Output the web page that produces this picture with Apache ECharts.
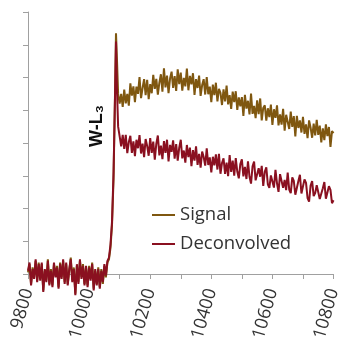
<!DOCTYPE html>
<html>
<head>
<meta charset="utf-8">
<script src="https://cdn.jsdelivr.net/npm/echarts@6/dist/echarts.min.js"></script>
<style>
  html, body { margin: 0; padding: 0; background: #fff; }
  #chart { width: 343px; height: 346px; }
</style>
</head>
<body>
<div id="chart"></div>
<script>
// photon energy (eV)
const energy = [
  9800, 9805, 9810, 9815, 9820, 9825, 9830, 9835, 9840, 9845,
  9850, 9855, 9860, 9865, 9870, 9875, 9880, 9885, 9890, 9895,
  9900, 9905, 9910, 9915, 9920, 9925, 9930, 9935, 9940, 9945,
  9950, 9955, 9960, 9965, 9970, 9975, 9980, 9985, 9990, 9995,
  10000, 10005, 10010, 10015, 10020, 10025, 10030, 10035, 10040, 10045,
  10050, 10055, 10060, 10065,
  10070, 10075, 10080, 10085, 10088, 10091, 10095,
  10100, 10105, 10110, 10115, 10120, 10125, 10130, 10135, 10140, 10145,
  10150, 10155, 10160, 10165, 10170, 10175, 10180, 10185, 10190, 10195,
  10200, 10205, 10210, 10215, 10220, 10225, 10230, 10235, 10240, 10245,
  10250, 10255, 10260, 10265, 10270, 10275, 10280, 10285, 10290, 10295,
  10300, 10305, 10310, 10315, 10320, 10325, 10330, 10335, 10340, 10345,
  10350, 10355, 10360, 10365, 10370, 10375, 10380, 10385, 10390, 10395,
  10400, 10405, 10410, 10415, 10420, 10425, 10430, 10435, 10440, 10445,
  10450, 10455, 10460, 10465, 10470, 10475, 10480, 10485, 10490, 10495,
  10500, 10505, 10510, 10515, 10520, 10525, 10530, 10535, 10540, 10545,
  10550, 10555, 10560, 10565, 10570, 10575, 10580, 10585, 10590, 10595,
  10600, 10605, 10610, 10615, 10620, 10625, 10630, 10635, 10640, 10645,
  10650, 10655, 10660, 10665, 10670, 10675, 10680, 10685, 10690, 10695,
  10700, 10705, 10710, 10715, 10720, 10725, 10730, 10735, 10740, 10745,
  10750, 10755, 10760, 10765, 10770, 10775, 10780, 10785, 10790, 10795,
  10800
];

const signal = [
  0.05, 0.3, -0.3, 0.2, -0.1, 0.4, -0.2, 0.35, -0.15, 0.3,
  -0.5, 0.1, -0.2, 0.45, -0.3, 0.15, -0.35, 0.3, -0.05, 0.25,
  -0.4, 0.35, -0.1, 0.4, -0.25, 0.3, -0.3, 0.1, 0.5, -0.2,
  0.2, -0.6, 0.25, -0.25, 0.4, -0.1, 0.3, -0.3, 0.2, -0.35,
  0.25, -0.15, 0.35, -0.45, 0.1, -0.3, 0.2, -0.4, 0.15, -0.3,
  0.25, -0.1, 0.35, 0.45,
  0.8, 1.5, 2.9, 5.6, 7.35, 6.6, 5.5,
  5.2, 5.5, 5.1, 5.63, 5.21, 5.5, 5.14, 5.82, 5.45, 5.73,
  5.25, 5.72, 5.5, 6.01, 5.37, 5.68, 5.95, 5.46, 5.93, 5.34,
  5.8, 5.52, 6.08, 5.65, 5.96, 5.48, 5.84, 6.1, 5.57, 6.28,
  5.7, 6.06, 5.52, 5.97, 6.18, 5.68, 6.04, 5.59, 6.25, 5.8,
  6.15, 5.6, 5.99, 5.73, 6.27, 5.61, 6.05, 5.79, 6.13, 5.47,
  5.95, 5.68, 6.06, 5.44, 5.77, 5.95, 5.48, 6.01, 5.49, 5.72,
  5.25, 5.78, 5.46, 5.84, 5.27, 5.65, 5.53, 5.16, 5.64, 5.27,
  5.75, 5.18, 5.46, 5.04, 5.57, 5.25, 5.58, 5.01, 5.39, 5.12,
  5.4, 4.83, 5.47, 5.05, 5.29, 4.87, 5.51, 4.89, 5.13, 4.76,
  5.3, 4.88, 5.36, 4.69, 5.07, 5.15, 4.68, 5.06, 4.79, 5.17,
  4.55, 5.03, 4.77, 5.15, 4.54, 4.87, 4.56, 5.04, 4.38, 4.86,
  4.8, 4.43, 4.96, 4.49, 4.82, 4.2, 4.83, 4.46, 4.69, 4.32,
  4.8, 4.28, 4.57, 4.15, 4.69, 4.47, 4.16, 4.59, 4.23, 4.71,
  4.25, 4.53, 4.02, 4.45, 4.09, 4.57, 4.21, 4.49, 3.88, 4.36,
  4.3
];

const deconvolved = [
  0.1, 0.35, -0.35, 0.15, -0.15, 0.45, -0.25, 0.3, -0.2, 0.35,
  -0.55, 0.15, -0.25, 0.4, -0.35, 0.1, -0.4, 0.35, -0.1, 0.2,
  -0.45, 0.3, -0.15, 0.45, -0.3, 0.35, -0.35, 0.15, 0.45, -0.25,
  0.15, -0.65, 0.3, -0.3, 0.45, -0.15, 0.25, -0.35, 0.25, -0.4,
  0.2, -0.2, 0.3, -0.5, 0.15, -0.35, 0.15, -0.45, 0.1, -0.25,
  0.3, -0.05, 0.4, 0.5,
  0.9, 1.6, 3.1, 5.5, 7.1, 5.7, 4.5,
  4.2, 3.9, 4.25, 3.82, 4.25, 3.69, 4.03, 4.22, 3.7, 4.05,
  3.6, 4.1, 3.84, 4.24, 3.68, 3.98, 3.57, 4.12, 3.91, 3.61,
  4.15, 3.7, 4.04, 3.49, 3.98, 4.23, 3.62, 3.92, 3.51, 4.06,
  3.7, 4.1, 3.44, 3.94, 3.73, 4.08, 3.52, 3.97, 3.46, 3.86,
  4.1, 3.53, 3.77, 3.4, 3.94, 3.57, 3.86, 3.29, 3.78, 3.46,
  3.9, 3.33, 3.67, 3.25, 3.74, 3.57, 3.31, 3.84, 3.33, 3.56,
  3.1, 3.58, 3.32, 3.65, 3.19, 3.67, 3.06, 3.39, 3.53, 3.06,
  3.4, 2.99, 3.63, 3.12, 3.46, 3.0, 3.54, 3.13, 2.92, 3.36,
  3.5, 2.98, 3.27, 2.9, 3.44, 2.97, 2.76, 3.29, 3.43, 2.86,
  2.8, 3.23, 2.97, 3.3, 2.69, 3.12, 3.26, 2.74, 2.63, 3.01,
  3.05, 2.64, 3.18, 2.77, 2.51, 3.05, 3.09, 2.63, 2.87, 2.56,
  3.1, 2.58, 2.47, 2.95, 2.84, 2.42, 2.46, 2.84, 3.03, 2.46,
  2.45, 2.89, 2.78, 2.32, 2.21, 2.7, 2.84, 2.38, 2.47, 2.71,
  2.75, 2.29, 2.23, 2.62, 2.81, 2.3, 2.34, 2.68, 2.57, 2.16,
  2.25
];

const seriesNames = ['Signal', 'Deconvolved'];
const seriesColors = ['#7f5710', '#8a1020'];
const edgeLabel = 'W-L\u2083';

const chart = echarts.init(document.getElementById('chart'), null, { renderer: 'canvas' });

const pairs = (ys) => energy.map((e, i) => [e, ys[i]]);

const option = {
  animation: false,
  backgroundColor: '#fff',
  grid: { left: 28, right: 7, top: 12, bottom: 72 },
  legend: {
    orient: 'vertical',
    left: 152,
    top: 204,
    padding: 0,
    itemWidth: 23,
    itemHeight: 2,
    itemGap: 7,
    icon: 'rect',
    textStyle: { fontFamily: 'Open Sans', fontSize: 18.5, lineHeight: 22, color: '#333' },
    data: seriesNames
  },
  xAxis: {
    type: 'value',
    min: 9800,
    max: 10800,
    interval: 100,
    axisLine: { lineStyle: { color: '#a0a0a0', width: 1 } },
    axisTick: { show: true, length: 5, lineStyle: { color: '#a0a0a0' } },
    splitLine: { show: false },
    axisLabel: {
      rotate: 74,
      margin: 15,
      fontFamily: 'Open Sans',
      fontSize: 18,
      color: '#333',
      formatter: (v) => (v % 200 === 0 ? String(v) : '')
    }
  },
  yAxis: {
    type: 'value',
    min: 0,
    max: 8,
    interval: 1,
    axisLine: { show: true, lineStyle: { color: '#a0a0a0', width: 1 } },
    axisTick: { show: true, length: 5, lineStyle: { color: '#a0a0a0' } },
    axisLabel: { show: false },
    splitLine: { show: false }
  },
  series: [
    {
      name: seriesNames[0],
      type: 'line',
      data: pairs(signal),
      showSymbol: false,
      clip: false,
      color: seriesColors[0],
      lineStyle: { width: 2, color: seriesColors[0] }
    },
    {
      name: seriesNames[1],
      type: 'line',
      data: pairs(deconvolved),
      showSymbol: false,
      clip: false,
      color: seriesColors[1],
      lineStyle: { width: 2, color: seriesColors[1] }
    },
    {
      // edge annotation, drawn as a rotated text element
      type: 'custom',
      silent: true,
      clip: false,
      data: [[0]],
      renderItem: () => ({
        type: 'group',
        x: 97,
        y: 126,
        rotation: Math.PI / 2,
        children: [
          {
            type: 'text',
            style: {
              text: edgeLabel,
              x: 0,
              y: 0,
              align: 'center',
              verticalAlign: 'middle',
              fontFamily: 'sans-serif',
              fontSize: 18,
              fontWeight: 'bold',
              fill: '#111'
            }
          }
        ]
      })
    }
  ]
};

chart.setOption(option);
</script>
</body>
</html>
